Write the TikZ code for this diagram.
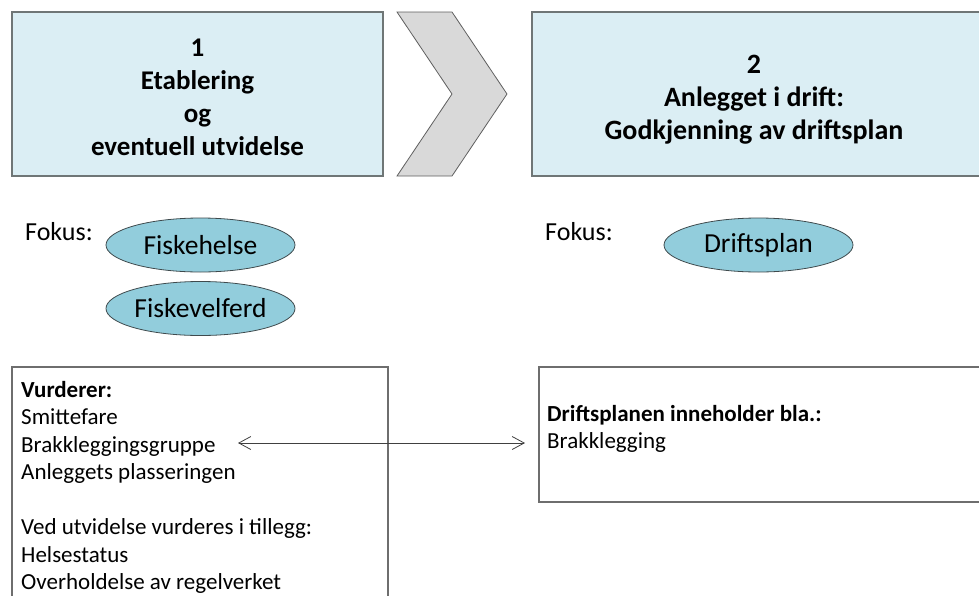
\documentclass[tikz,border=0pt]{standalone}
\usepackage{fontspec}
\setmainfont{Carlito}
\usetikzlibrary{arrows.meta,shapes.geometric}
\definecolor{boxfill}{HTML}{DBEEF4}
\definecolor{boxline}{HTML}{6F7676}
\definecolor{chevfill}{HTML}{D9D9D9}
\definecolor{chevline}{HTML}{5F5F5F}
\definecolor{ellfill}{HTML}{92CDDC}
\definecolor{ellline}{HTML}{3F4A4D}
\definecolor{listline}{HTML}{6E6E6E}
\definecolor{arrline}{HTML}{404040}
\tikzset{
  titlebox/.style={draw=boxline, fill=boxfill, line width=1.6pt, inner sep=0pt},
  titletext/.style={align=center, inner sep=0pt, font=\fontsize{27}{33}\selectfont\bfseries},
  fokustext/.style={inner sep=0pt, font=\fontsize{26}{31}\selectfont},
  focusell/.style={ellipse, draw=ellline, fill=ellfill, line width=0.8pt, minimum width=189pt, minimum height=54pt, inner sep=0pt, font=\fontsize{27.5}{32}\selectfont},
  listbox/.style={draw=listline, line width=1.1pt, inner sep=0pt},
  listtext/.style={align=left, inner sep=0pt, font=\fontsize{23}{27.5}\selectfont},
  linkarrow/.style={draw=arrline, line width=0.8pt, {Straight Barb[length=12pt,width=13pt]}-{Straight Barb[length=12pt,width=13pt]}}
}
\begin{document}
\begin{tikzpicture}[x=1pt,y=-1pt]
\useasboundingbox (0,0) rectangle (979,595);
% top boxes
\node[titlebox, minimum width=371pt, minimum height=164pt] (b1) at (197.5,94) {};
\node[titletext] (t1) at (197.5,97) {1\\Etablering\\og\\eventuell utvidelse};
\path[draw=chevline, fill=chevfill, line width=0.8pt]
  (397,12) -- (452,12) -- (507,94) -- (452,176) -- (397,176) -- (452,94) -- cycle;
\node[titlebox, minimum width=456pt, minimum height=164pt] (b2) at (760,94) {};
\node[titletext, font=\fontsize{28}{33}\selectfont\bfseries] (t2) at (754,100) {2\\Anlegget i drift:\\Godkjenning av driftsplan};
% focus
\node[fokustext, anchor=west] (f1) at (25,232) {Fokus:};
\node[focusell] (e1) at (200.5,245) {Fiskehelse};
\node[focusell] (e2) at (200.5,308.5) {Fiskevelferd};
\node[fokustext, anchor=west] (f2) at (545,232) {Fokus:};
\node[focusell] (e3) at (758.5,245) {Driftsplan};
% lower boxes
\node[listbox, minimum width=376pt, minimum height=243pt] (l1) at (200,488.5) {};
\node[listtext, anchor=north west] (lt1) at (21,381) {\textbf{Vurderer:}\\Smittefare\\Brakkleggingsgruppe\\Anleggets plasseringen\\[27.5pt]Ved utvidelse vurderes i tillegg:\\Helsestatus\\Overholdelse av regelverket};
\node[listbox, minimum width=452pt, minimum height=135pt] (l2) at (765,434.5) {};
\node[listtext, anchor=north west] (lt2) at (547,405) {\textbf{Driftsplanen inneholder bla.:}\\Brakklegging};
% link
\coordinate (aL) at (238,443);
\coordinate (aR) at (525,443);
\draw[linkarrow] (aL) -- (aR);
\end{tikzpicture}
\end{document}
